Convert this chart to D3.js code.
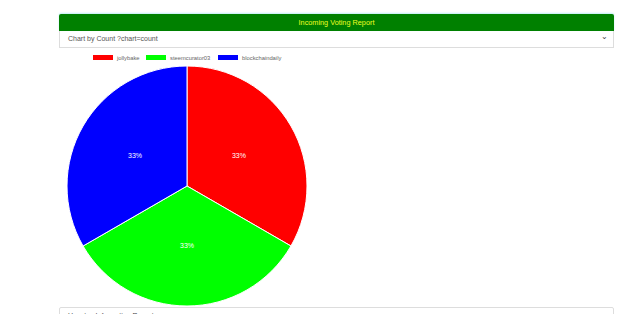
<!DOCTYPE html>
<html>
<head>
<meta charset="utf-8">
<script src="https://cdn.jsdelivr.net/npm/d3@7"></script>
<style>
  body { margin: 0; background: #fff; font-family: "Liberation Sans", Arial, sans-serif; overflow: hidden; }
  .header {
    position: absolute; left: 59px; top: 14px; width: 555px; height: 17px;
    background: #008000; color: #eeff22; font-size: 7.3px; text-align: center; line-height: 17px;
    box-shadow: 0 -1px 2px #bfeff5; border-radius: 2px 2px 0 0;
  }
  .select {
    position: absolute; left: 59px; top: 31px; width: 553px; height: 16px;
    border: 1px solid #ddd; border-top: none; color: #555; font-size: 7px; line-height: 16px;
    box-sizing: content-box;
  }
  .select span { position: absolute; left: 8px; }
  .select i { position: absolute; right: 5px; top: -2px; font-style: normal; font-size: 8px; color: #444; }
  .bottom {
    position: absolute; left: 59px; top: 307px; width: 553px; height: 20px;
    border: 1px solid #ddd; border-radius: 2px; color: #444; font-size: 7px;
  }
  .bottom span { position: absolute; left: 8px; top: 4px; }
  svg { position: absolute; left: 0; top: 0; }
</style>
</head>
<body>
<div class="header">Incoming Voting Report</div>
<div class="select"><span>Chart by Count ?chart=count</span><i>&#8964;</i></div>
<div class="bottom"><span>Upvotes Information Report</span></div>
<svg id="chart" width="640" height="306"></svg>
<script>
/*voters and vote counts*/
const voters = ["jollybake", "steemcurator03", "blockchaindaily"];
const counts = [1, 1, 1];
const colors = ["#ff0000", "#00ff00", "#0000ff"];

const svg = d3.select("#chart");
const cx = 187, cy = 186, radius = 120;

const total = d3.sum(counts);
const color = d3.scaleOrdinal().domain(voters).range(colors);

const pie = d3.pie().sort(null).value(d => d.count);
const arc = d3.arc().innerRadius(0).outerRadius(radius);

const data = voters.map((v, i) => ({name: v, count: counts[i]}));

const g = svg.append("g").attr("transform", "translate(" + cx + "," + cy + ")");

g.selectAll("path")
    .data(pie(data))
    .enter()
    .append("path")
    .attr("d", arc)
    .style("fill", d => color(d.data.name))
    .style("stroke", "#fff")
    .style("stroke-width", 1);

g.selectAll("text")
    .data(pie(data))
    .enter()
    .append("text")
    .attr("transform", d => "translate(" + arc.centroid(d) + ")")
    .attr("text-anchor", "middle")
    .attr("dy", "0.35em")
    .style("fill", "#fff")
    .style("font-size", "7px")
    .text(d => Math.round(d.data.count / total * 100) + "%");

/*legend above the pie*/
const legendX = [93, 146, 218];
const legend = svg.append("g").attr("id", "legend");
legend.selectAll("rect")
    .data(voters)
    .enter()
    .append("rect")
    .attr("x", (d, i) => legendX[i])
    .attr("y", 55)
    .attr("width", 20)
    .attr("height", 5)
    .style("fill", d => color(d));
legend.selectAll("text")
    .data(voters)
    .enter()
    .append("text")
    .attr("x", (d, i) => legendX[i] + 24)
    .attr("y", 59.5)
    .style("fill", "#666")
    .style("font-size", "5.8px")
    .text(d => d);
</script>
</body>
</html>
